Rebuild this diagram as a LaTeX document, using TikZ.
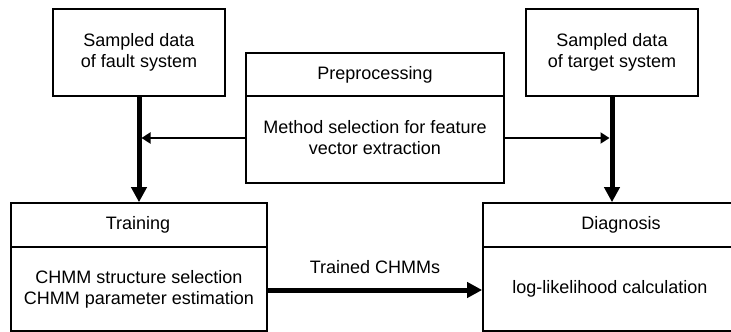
\documentclass[tikz,border=0pt]{standalone}
\usepackage{fontspec}
\setmainfont{Liberation Sans}
\usetikzlibrary{arrows.meta}
\begin{document}
\begin{tikzpicture}[x=1pt,y=-1pt,
  box/.style={draw, line width=1.6pt, inner sep=0pt},
  txt/.style={align=center, font=\fontsize{18}{21}\selectfont, inner sep=0pt},
  divider/.style={line width=1.6pt},
  thickarrow/.style={line width=5pt, -{Triangle[length=15pt,width=15pt]}},
  thinarrow/.style={line width=2pt, -{Triangle[length=9pt,width=11pt]}}]
\useasboundingbox (0,0) rectangle (731,332);
% upper boxes
\node[box,txt,minimum width=172pt,minimum height=87pt] (fault) at (139,52.5) {Sampled data\\of fault system};
\node[box,txt,minimum width=172pt,minimum height=87pt] (target) at (612,52.5) {Sampled data\\of target system};
% preprocessing
\node[box,minimum width=258pt,minimum height=130pt] (pre) at (375,118) {};
\draw[divider] (pre.west |- 0,96) -- (pre.east |- 0,96);
\node[txt] (pretitle) at (375,74.5) {Preprocessing};
\node[txt] (prebody) at (375,138) {Method selection for feature\\vector extraction};
% training
\node[box,minimum width=256pt,minimum height=128pt] (train) at (139,267) {};
\draw[divider] (train.west |- 0,247) -- (train.east |- 0,247);
\node[txt] (traintitle) at (138,225) {Training};
\node[txt] (trainbody) at (139,289) {CHMM structure selection\\CHMM parameter estimation};
% diagnosis
\node[box,minimum width=256pt,minimum height=128pt] (diag) at (611,267) {};
\draw[divider] (diag.west |- 0,247) -- (diag.east |- 0,247);
\node[txt] (diagtitle) at (621,225) {Diagnosis};
\node[txt] (diagbody) at (610,289) {log-likelihood calculation};
% connectors
\coordinate (lhit) at (141.5,138);
\coordinate (rhit) at (609.5,138);
\draw[thickarrow] (fault.south) -- (train.north);
\draw[thickarrow] (target.south) -- (target.south |- diag.north);
\draw[thinarrow] (pre.west |- lhit) -- (lhit);
\draw[thinarrow] (pre.east |- rhit) -- (rhit);
\draw[thickarrow] (train.east |- 0,290) -- node[txt,above=14pt] (lbl) {Trained CHMMs} (diag.west |- 0,290);
\end{tikzpicture}
\end{document}
